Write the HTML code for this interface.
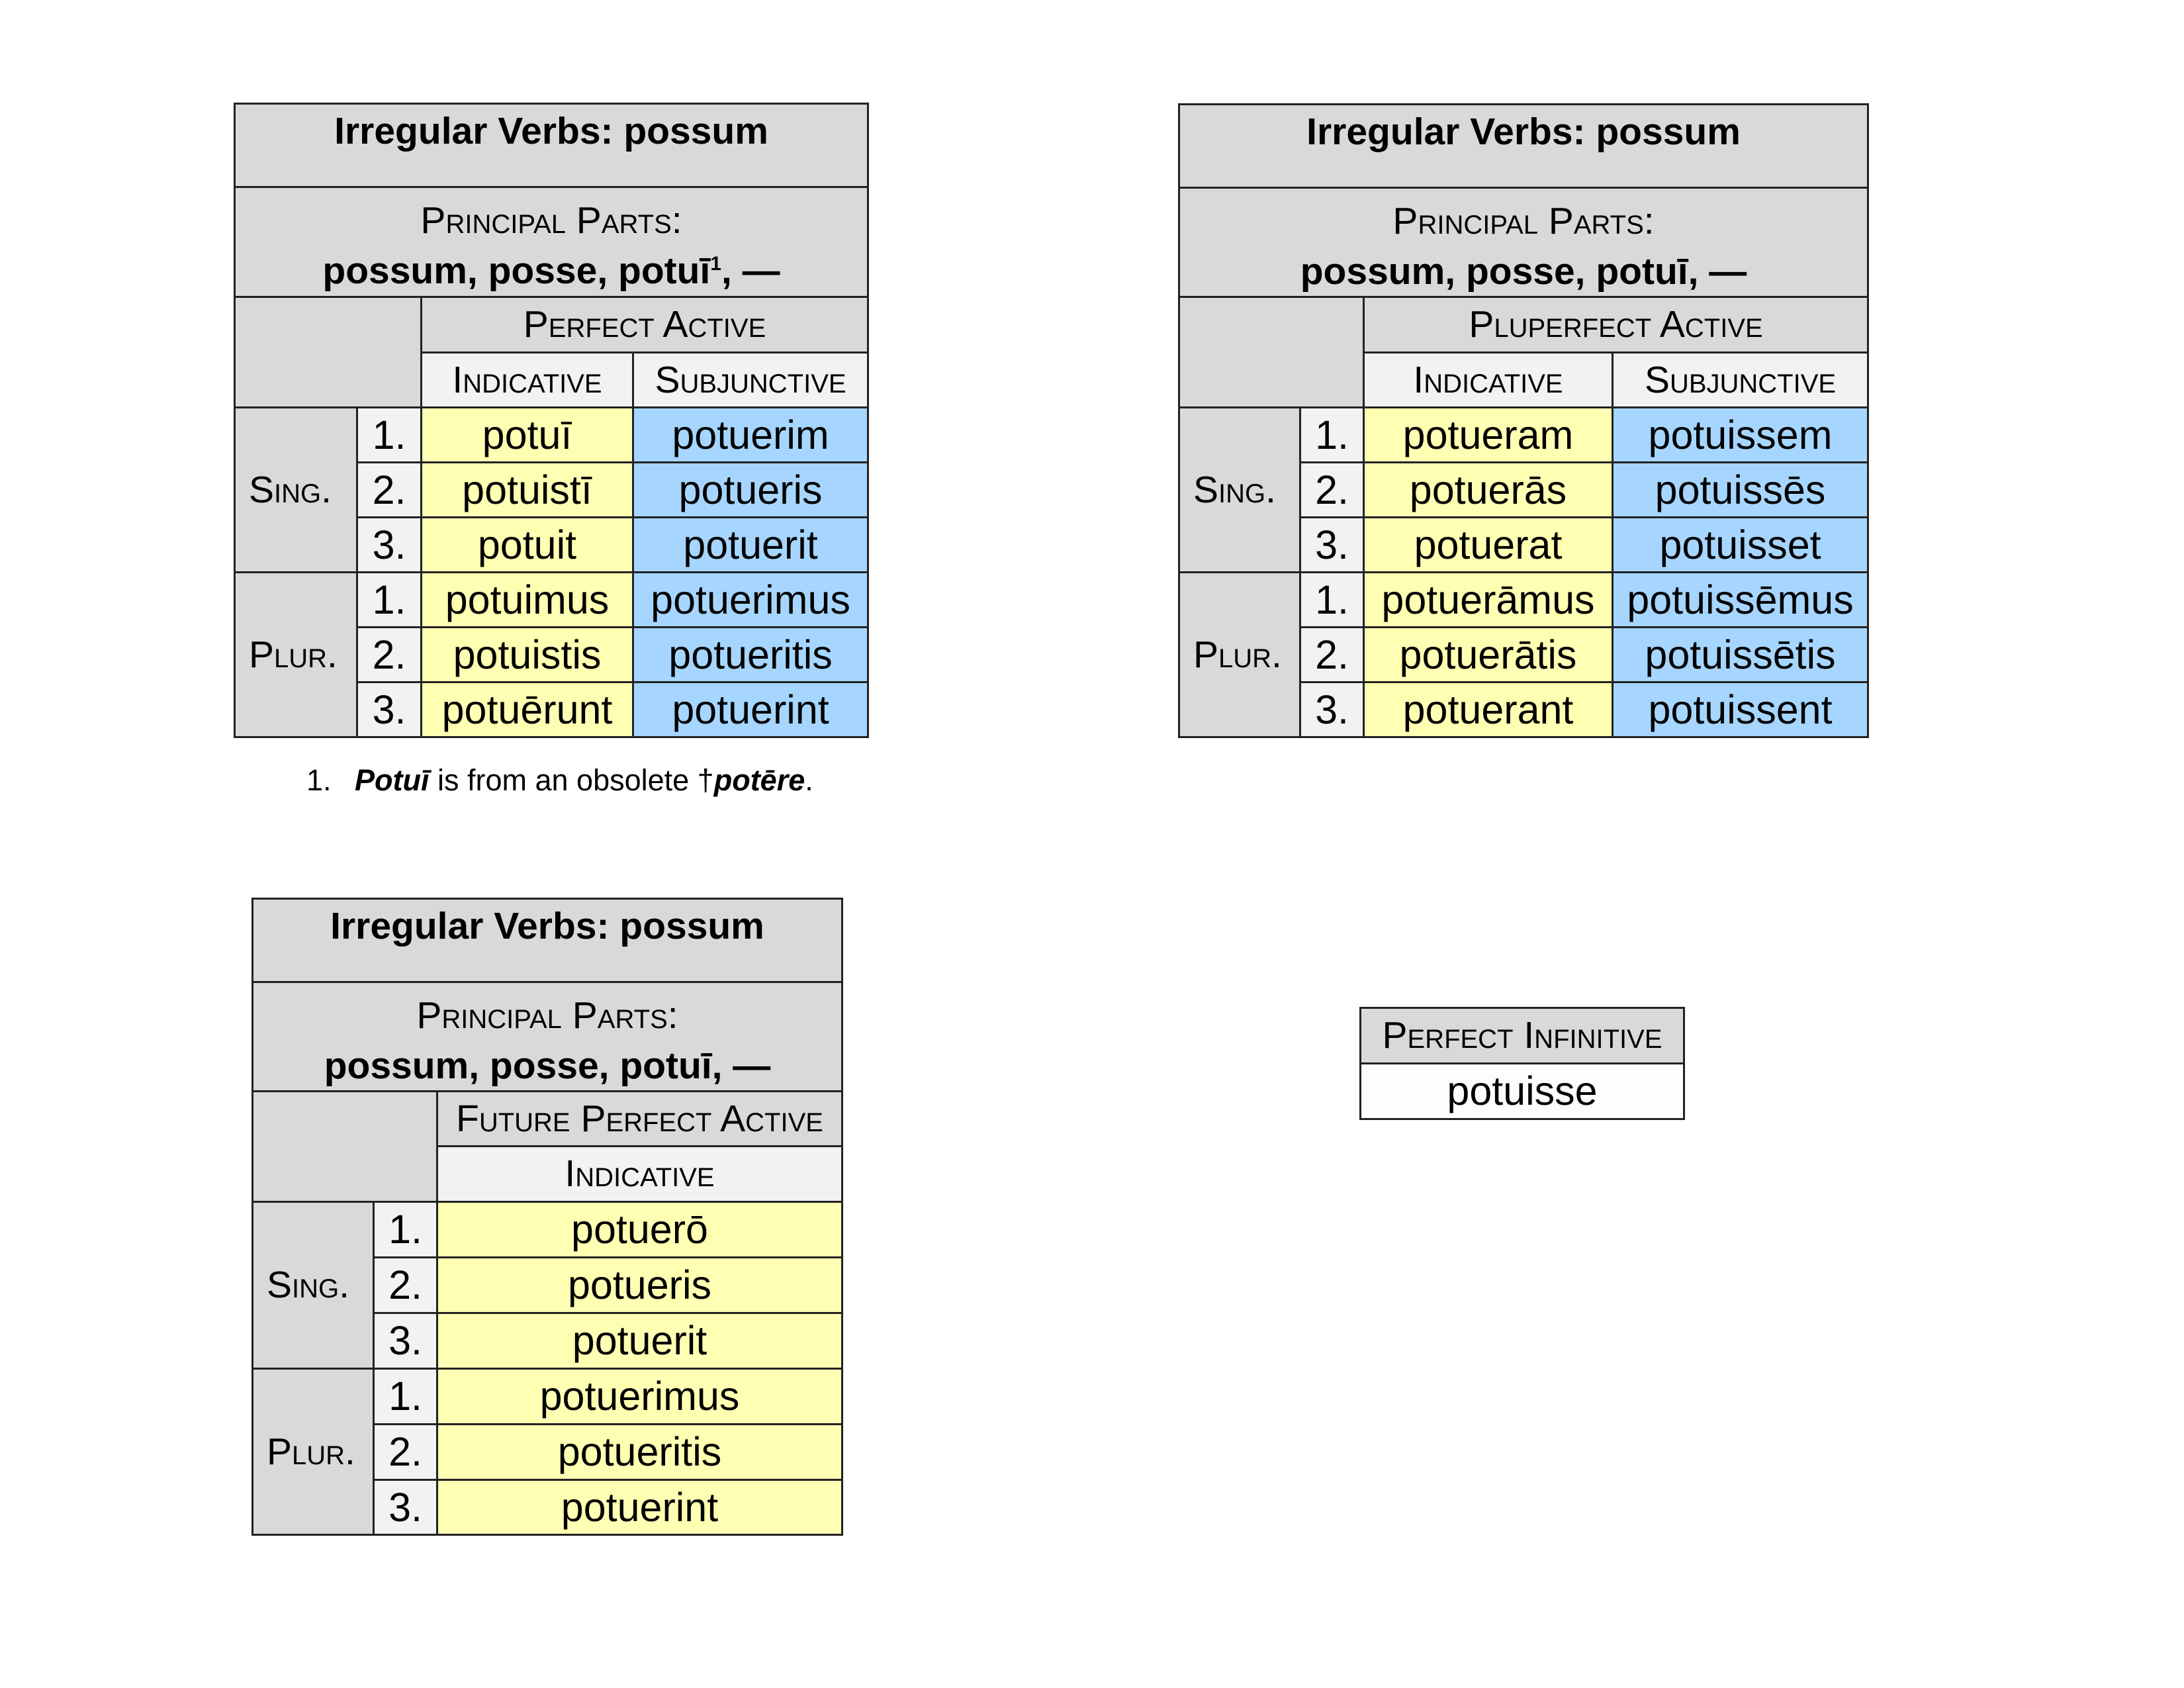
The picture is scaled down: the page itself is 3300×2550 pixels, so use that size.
<!DOCTYPE html>
<html><head><meta charset="utf-8"><style>
body{margin:0;width:3300px;height:2550px;background:#fff;position:relative;font-family:"Liberation Sans",sans-serif;color:#000;overflow:hidden}
table{position:absolute;border-collapse:collapse;table-layout:fixed}
td{border:3px solid #222;padding:0;text-align:center;vertical-align:middle;font-size:61px;line-height:1;overflow:hidden;white-space:nowrap}
.g{background:#d9d9d9}.l{background:#f2f2f2}.y{background:#ffffb3}.b{background:#a6d6ff}.w{background:#fdfdff}
.sc{font-variant:small-caps;font-size:57px}
.t{vertical-align:top;font-weight:bold;font-size:57px;padding-top:12px}
.pp{vertical-align:top;padding-top:10px;line-height:74px}
.pp b{font-size:57px}
.lab{text-align:left;padding-left:20px}
.fn{position:absolute;font-size:45px;top:1153px}
sup{font-size:30px;line-height:0}
</style></head><body>

<table style="left:353px;top:155px;width:957px">
<colgroup><col style="width:185px"><col style="width:97px"><col style="width:320px"><col style="width:355px"></colgroup>
<tr style="height:126px"><td class="g t" colspan="4">Irregular Verbs: possum</td></tr>
<tr style="height:166px"><td class="g pp" colspan="4"><span class="sc">Principal Parts:</span><br><b>possum, posse, potuī<sup>1</sup>, —</b></td></tr>
<tr style="height:84px"><td class="g" colspan="2" rowspan="2"></td><td class="g sc" colspan="2">Perfect Active</td></tr>
<tr style="height:83px"><td class="l sc">Indicative</td><td class="l sc">Subjunctive</td></tr>
<tr style="height:83px"><td class="g sc lab" rowspan="3">Sing.</td><td class="l">1.</td><td class="y">potuī</td><td class="b">potuerim</td></tr>
<tr style="height:83px"><td class="l">2.</td><td class="y">potuistī</td><td class="b">potueris</td></tr>
<tr style="height:83px"><td class="l">3.</td><td class="y">potuit</td><td class="b">potuerit</td></tr>
<tr style="height:83px"><td class="g sc lab" rowspan="3">Plur.</td><td class="l">1.</td><td class="y">potuimus</td><td class="b">potuerimus</td></tr>
<tr style="height:83px"><td class="l">2.</td><td class="y">potuistis</td><td class="b">potueritis</td></tr>
<tr style="height:83px"><td class="l">3.</td><td class="y">potuērunt</td><td class="b">potuerint</td></tr>
</table>
<div class="fn" style="left:463px">1.</div>
<div class="fn" style="left:536px"><b><i>Potuī</i></b> is from an obsolete †<b><i>potēre</i></b>.</div>

<table style="left:1780px;top:156px;width:1041px">
<colgroup><col style="width:183px"><col style="width:96px"><col style="width:376px"><col style="width:386px"></colgroup>
<tr style="height:126px"><td class="g t" colspan="4">Irregular Verbs: possum</td></tr>
<tr style="height:165px"><td class="g pp" colspan="4"><span class="sc">Principal Parts:</span><br><b>possum, posse, potuī, —</b></td></tr>
<tr style="height:84px"><td class="g" colspan="2" rowspan="2"></td><td class="g sc" colspan="2">Pluperfect Active</td></tr>
<tr style="height:83px"><td class="l sc">Indicative</td><td class="l sc">Subjunctive</td></tr>
<tr style="height:83px"><td class="g sc lab" rowspan="3">Sing.</td><td class="l">1.</td><td class="y">potueram</td><td class="b">potuissem</td></tr>
<tr style="height:83px"><td class="l">2.</td><td class="y">potuerās</td><td class="b">potuissēs</td></tr>
<tr style="height:83px"><td class="l">3.</td><td class="y">potuerat</td><td class="b">potuisset</td></tr>
<tr style="height:83px"><td class="g sc lab" rowspan="3">Plur.</td><td class="l">1.</td><td class="y">potuerāmus</td><td class="b">potuissēmus</td></tr>
<tr style="height:83px"><td class="l">2.</td><td class="y">potuerātis</td><td class="b">potuissētis</td></tr>
<tr style="height:83px"><td class="l">3.</td><td class="y">potuerant</td><td class="b">potuissent</td></tr>
</table>

<table style="left:380px;top:1356px;width:891px">
<colgroup><col style="width:183px"><col style="width:96px"><col style="width:612px"></colgroup>
<tr style="height:126px"><td class="g t" colspan="3">Irregular Verbs: possum</td></tr>
<tr style="height:164px"><td class="g pp" colspan="3"><span class="sc">Principal Parts:</span><br><b>possum, posse, potuī, —</b></td></tr>
<tr style="height:83px"><td class="g" colspan="2" rowspan="2"></td><td class="g sc">Future Perfect Active</td></tr>
<tr style="height:84px"><td class="l sc">Indicative</td></tr>
<tr style="height:84px"><td class="g sc lab" rowspan="3">Sing.</td><td class="l">1.</td><td class="y">potuerō</td></tr>
<tr style="height:84px"><td class="l">2.</td><td class="y">potueris</td></tr>
<tr style="height:84px"><td class="l">3.</td><td class="y">potuerit</td></tr>
<tr style="height:84px"><td class="g sc lab" rowspan="3">Plur.</td><td class="l">1.</td><td class="y">potuerimus</td></tr>
<tr style="height:84px"><td class="l">2.</td><td class="y">potueritis</td></tr>
<tr style="height:83px"><td class="l">3.</td><td class="y">potuerint</td></tr>
</table>

<table style="left:2054px;top:1521px;width:492px">
<tr style="height:84px"><td class="g sc">Perfect Infinitive</td></tr>
<tr style="height:84px"><td class="w">potuisse</td></tr>
</table>
</body></html>
